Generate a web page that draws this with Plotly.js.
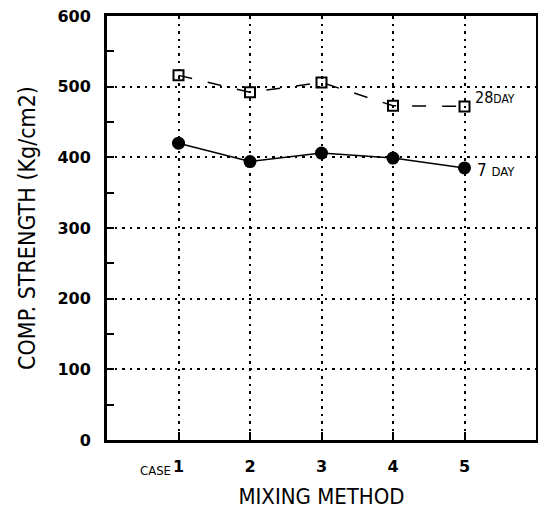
<!DOCTYPE html>
<html><head><meta charset="utf-8">
<script src="https://cdn.plot.ly/plotly-3.0.1.min.js"></script>
<style>body{margin:0;background:#fff}#c{width:538px;height:519px}</style>
</head><body><div id="c"></div>
<script>
const cases = [1, 2, 3, 4, 5];
const tickLabels = ['1', '2', '3', '4', '5'];
const day28 = [516, 492, 506, 473, 472];
const day7 = [420, 394, 406, 399, 385];
const seriesNames = ['28 DAY', '7 DAY'];

const data = [
  {x: cases, y: day28, mode: 'lines+markers', name: seriesNames[0],
   line: {color: '#000', width: 1.5, dash: '14px,16px'},
   marker: {symbol: 'square-open', size: 10, color: '#000', line: {width: 2, color: '#000'}}},
  {x: cases, y: day7, mode: 'lines+markers', name: seriesNames[1],
   line: {color: '#000', width: 1.5},
   marker: {symbol: 'circle', size: 13, color: '#000'}}
];
const fam = 'DejaVu Sans Condensed, Liberation Sans Narrow, Arial';
const tfam = 'DejaVu Sans, Arial';
const layout = {
  width: 538, height: 519,
  margin: {l: 107, r: 2, t: 16, b: 79},
  paper_bgcolor: '#fff', plot_bgcolor: '#fff',
  showlegend: false,
  font: {family: fam, color: '#000'},
  xaxis: {range: [0, 6], tickvals: cases, ticktext: tickLabels,
    ticks: 'inside', ticklen: 8, tickwidth: 2, tickcolor: '#000',
    showgrid: true, gridcolor: '#000', gridwidth: 2, griddash: '2.5px,5px',
    showline: true, linewidth: 3, linecolor: '#000', mirror: true,
    zeroline: false, tickfont: {size: 16, family: tfam, weight: 'bold'},
    ticklabelstandoff: 10,
    title: {text: 'MIXING METHOD', font: {size: 22, family: fam}, standoff: 14}},
  yaxis: {range: [0, 600], dtick: 100, tick0: 0,
    ticks: 'inside', ticklen: 7, tickwidth: 2, tickcolor: '#000',
    minor: {dtick: 50, ticks: 'inside', ticklen: 7, tickwidth: 2, tickcolor: '#000', showgrid: false},
    showgrid: true, gridcolor: '#000', gridwidth: 2, griddash: '2.5px,5px',
    showline: true, linewidth: 3, linecolor: '#000', mirror: true,
    zeroline: false, tickfont: {size: 16, family: tfam, weight: 'bold'},
    ticklabelstandoff: 10,
    title: {text: 'COMP. STRENGTH (Kg/cm2)', font: {size: 23, family: fam}, standoff: 16}},
  annotations: [
    {x: 5, y: day28[4] + 12, xref: 'x', yref: 'y', text: '28<span style="font-size:12px">DAY</span>',
     showarrow: false, xanchor: 'left', xshift: 8, font: {size: 16, family: fam}},
    {x: 5, y: day7[4] - 3, xref: 'x', yref: 'y', text: '7 <span style="font-size:13px">DAY</span>',
     showarrow: false, xanchor: 'left', xshift: 10, font: {size: 17, family: fam}},
    {x: 1, y: 0, xref: 'x', yref: 'paper', text: 'CASE', showarrow: false,
     xanchor: 'right', yanchor: 'top', xshift: -6, yshift: -21, font: {size: 13, family: fam}}
  ]
};
Plotly.newPlot('c', data, layout, {displayModeBar: false});
</script></body></html>
